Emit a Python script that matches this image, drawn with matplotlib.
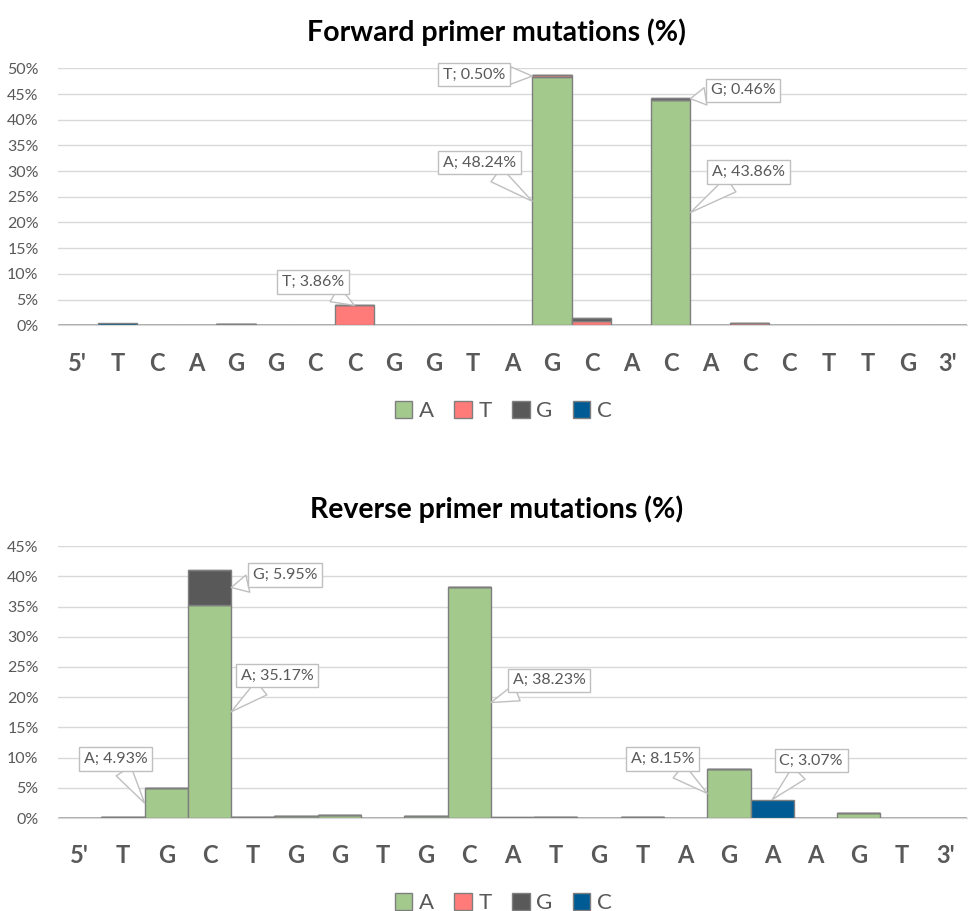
import matplotlib.pyplot as plt
from matplotlib.patches import Patch

plt.rcParams['font.family'] = ['Lato', 'DejaVu Sans']

# sequence positions
fwd_sites = ["5'", 'T', 'C', 'A', 'G', 'G', 'C', 'C', 'G', 'G', 'T', 'A',
             'G', 'C', 'A', 'C', 'A', 'C', 'C', 'T', 'T', 'G', "3'"]
rev_sites = ["5'", 'T', 'G', 'C', 'T', 'G', 'G', 'T', 'G', 'C', 'A',
             'T', 'G', 'T', 'A', 'G', 'A', 'A', 'G', 'T', "3'"]

# mutation frequency (%) per base, forward primer
fwd_A = [0, 0, 0, 0, 0.2, 0, 0.1, 0, 0.1, 0, 0, 0,
         48.24, 0, 0, 43.86, 0, 0, 0.05, 0.05, 0.05, 0.05, 0]
fwd_T = [0, 0, 0, 0, 0, 0, 0, 3.86, 0, 0, 0, 0,
         0.50, 0.85, 0, 0, 0, 0.40, 0, 0, 0, 0, 0]
fwd_G = [0, 0, 0, 0, 0, 0, 0, 0, 0, 0, 0, 0.1,
         0, 0.55, 0, 0.46, 0, 0, 0, 0, 0, 0, 0]
fwd_C = [0, 0.40, 0, 0, 0, 0, 0, 0, 0, 0, 0, 0,
         0, 0, 0, 0, 0, 0, 0, 0, 0, 0, 0]

# mutation frequency (%) per base, reverse primer
rev_A = [0, 0.1, 4.93, 35.17, 0.2, 0.3, 0.55, 0, 0.35, 38.23, 0,
         0.15, 0, 0.15, 0, 8.15, 0, 0, 0.9, 0.03, 0]
rev_T = [0] * 21
rev_G = [0, 0, 0, 5.95, 0, 0, 0, 0, 0, 0, 0.15,
         0, 0, 0, 0, 0, 0, 0, 0, 0, 0]
rev_C = [0, 0, 0, 0, 0, 0, 0, 0, 0, 0, 0,
         0, 0, 0, 0, 0, 3.07, 0, 0, 0, 0]

bases = ['A', 'T', 'G', 'C']
colors = {'A': '#a4c98c', 'T': '#ff7b79', 'G': '#595959', 'C': '#005b94'}

# callouts: (base, position, side of bar, offset in points)
fwd_notes = [('T', 7, 'top', (-30, 17)),
             ('T', 12, 'left', (-42, 1)),
             ('A', 12, 'left', (-38, 28)),
             ('G', 15, 'right', (38, 6)),
             ('A', 15, 'right', (42, 29))]
rev_notes = [('A', 2, 'left', (-21, 32)),
             ('G', 3, 'right', (39, 9)),
             ('A', 3, 'right', (33, 26)),
             ('A', 9, 'right', (42, 16)),
             ('A', 15, 'left', (-32, 25)),
             ('C', 16, 'top', (28, 28))]

txt_col = '#595959'
grid_col = '#d9d9d9'


def draw(ax, sites, data, notes, ymax, title):
    x = list(range(len(sites)))
    bottom = [0.0] * len(sites)
    starts = {}
    for b in bases:
        starts[b] = list(bottom)
        ax.bar(x, data[b], width=1.0, bottom=bottom, color=colors[b],
               edgecolor='#7f7f7f', linewidth=1.0, label=b, zorder=3)
        bottom = [bottom[i] + data[b][i] for i in x]

    for b, i, side, off in notes:
        v = data[b][i]
        if side == 'top':
            xy = (i, starts[b][i] + v)
        elif side == 'left':
            xy = (i - 0.5, starts[b][i] + v / 2)
        else:
            xy = (i + 0.5, starts[b][i] + v / 2)
        ax.annotate('%s; %.2f%%' % (b, v), xy=xy, xytext=off,
                    textcoords='offset points', ha='center', va='center',
                    fontsize=11.5, color=txt_col, zorder=5,
                    bbox=dict(boxstyle='square,pad=0.3', fc='white',
                              ec='#bfbfbf', lw=1),
                    arrowprops=dict(arrowstyle='wedge,tail_width=1.1,shrink_factor=0.5',
                                    fc='white', ec='#bfbfbf', lw=1,
                                    shrinkA=0, shrinkB=0))

    ax.set_xlim(-0.5, len(sites) - 0.5)
    ax.set_ylim(0, ymax)
    ax.set_yticks(range(0, ymax + 1, 5))
    ax.set_yticklabels(['%d%%' % t for t in range(0, ymax + 1, 5)])
    ax.set_xticks(x)
    ax.set_xticklabels(sites, fontsize=17, fontweight='bold', color=txt_col)
    ax.tick_params(axis='x', length=0, pad=19)
    ax.tick_params(axis='y', length=0, pad=14, labelsize=11.5, labelcolor=txt_col)
    ax.grid(axis='y', color=grid_col, lw=1, zorder=0)
    for s in ['top', 'right', 'left']:
        ax.spines[s].set_visible(False)
    ax.spines['bottom'].set_color(grid_col)
    ax.set_title(title, fontsize=20.5, fontweight='bold', color='black',
                 pad=20, x=0.482)


fig = plt.figure(figsize=(9.68, 9.11), dpi=100)
ax1 = fig.add_axes([0.060, 0.643, 0.939, 0.282])
ax2 = fig.add_axes([0.060, 0.102, 0.939, 0.2986])

draw(ax1, fwd_sites, {'A': fwd_A, 'T': fwd_T, 'G': fwd_G, 'C': fwd_C},
     fwd_notes, 50, 'Forward primer mutations (%)')
draw(ax2, rev_sites, {'A': rev_A, 'T': rev_T, 'G': rev_G, 'C': rev_C},
     rev_notes, 45, 'Reverse primer mutations (%)')

handles = [Patch(fc=colors[b], ec='#7f7f7f', label=b) for b in bases]
for yc in [0.549, 0.009]:
    fig.legend(handles=handles, loc='center', bbox_to_anchor=(0.52, yc),
               ncol=4, frameon=False, fontsize=16, labelcolor=txt_col,
               handlelength=0.8, handleheight=0.8, handletextpad=0.3,
               columnspacing=0.9)

fig.savefig('out.png', dpi=100)
